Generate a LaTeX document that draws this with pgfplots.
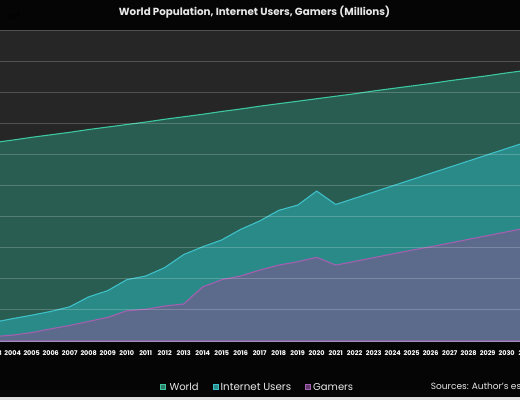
\documentclass[border=0pt]{standalone}
\usepackage{pgfplots}
\usepackage{pgfplotstable}
\pgfplotsset{compat=1.18}
\usepackage{fontspec}
\setmainfont{Poppins}
\definecolor{pagebg}{HTML}{050505}
\definecolor{plotbg}{HTML}{262626}
\definecolor{worldfill}{HTML}{2A5D51}
\definecolor{worldline}{HTML}{3CC7A0}
\definecolor{netfill}{HTML}{2A8A88}
\definecolor{netline}{HTML}{3EC0C8}
\definecolor{gamefill}{HTML}{5C6B8C}
\definecolor{gameline}{HTML}{A35FB0}
\definecolor{txt}{HTML}{E8E8E8}
\pgfplotstableread{
year world internet gamers
2003 6380 600 140
2004 6460 720 190
2005 6550 830 270
2006 6630 950 390
2007 6710 1100 500
2008 6800 1420 630
2009 6880 1620 760
2010 6960 1970 970
2011 7040 2090 1020
2012 7130 2360 1125
2013 7210 2780 1190
2014 7290 3030 1740
2015 7380 3250 1970
2016 7460 3590 2090
2017 7550 3860 2280
2018 7630 4200 2440
2019 7710 4370 2550
2020 7790 4820 2690
2021 7870 4390 2440
2022 7950 4590 2560
2023 8040 4790 2680
2024 8120 4990 2800
2025 8200 5190 2920
2026 8280 5390 3030
2027 8370 5590 3150
2028 8450 5790 3270
2029 8530 5990 3390
2030 8620 6190 3510
2031 8700 6390 3630
}\datatable
\tikzset{ticklab/.style={font=\fontsize{6.5}{7}\selectfont\bfseries, text=white}}
\begin{document}
\begin{tikzpicture}
\useasboundingbox (0pt,0pt) rectangle (520pt,400pt);
\clip (0pt,0pt) rectangle (520pt,400pt);
\fill[pagebg] (0pt,0pt) rectangle (520pt,400pt);
\fill[black!12] (0pt,0pt) rectangle (520pt,2.7pt);
\begin{axis}[
  at={(0pt,59pt)}, anchor=south west,
  scale only axis, width=520pt, height=311pt,
  xmin=2003.33, xmax=2030.70, ymin=0, ymax=10000,
  axis background/.style={fill=plotbg},
  xtick={2004,...,2030},
  /pgf/number format/assume math mode=true,
  xticklabel style={ticklab, /pgf/number format/1000 sep=, anchor=center, yshift=-11.7pt},
  ytick={0,1000,...,10000}, yticklabels={},
  ymajorgrids, grid style={white, opacity=0.2, line width=0.9pt},
  axis on top, axis line style={draw=none}, major tick length=0pt,
]
\addplot[fill=worldfill, draw=worldline, line width=1.1pt] table[x=year,y=world]{\datatable} \closedcycle;
\addplot[fill=netfill, draw=netline, line width=1.1pt] table[x=year,y=internet]{\datatable} \closedcycle;
\addplot[fill=gamefill, draw=gameline, line width=1.1pt] table[x=year,y=gamers]{\datatable} \closedcycle;
\coordinate (a2003) at (axis cs:2003,0);
\coordinate (a2031) at (axis cs:2031,0);
\end{axis}
\node[ticklab, anchor=center, yshift=-11.7pt] at (a2003) {2003};
\node[ticklab, anchor=center, yshift=-11.7pt] at (a2031) {2031};
\node[font=\fontsize{10.3}{11}\selectfont\bfseries, text=txt] at (254.5pt,387.5pt) {World Population, Internet Users, Gamers (Millions)};
\draw[worldline, fill=worldfill!70!worldline, line width=0.8pt] (160.2pt,10.5pt) rectangle (165.8pt,16.1pt);
\node[font=\fontsize{10}{11}\selectfont, text=txt, anchor=west, inner sep=0pt] at (169.3pt,13.3pt) {World};
\draw[netline, fill=netfill, line width=0.8pt] (212.9pt,10.5pt) rectangle (218.5pt,16.1pt);
\node[font=\fontsize{10.3}{11}\selectfont, text=txt, anchor=west, inner sep=0pt] at (220.5pt,13.3pt) {Internet Users};
\draw[gameline, fill=gameline!60!black, line width=0.8pt] (305pt,10.5pt) rectangle (310.6pt,16.1pt);
\node[font=\fontsize{10}{11}\selectfont, text=txt, anchor=west, inner sep=0pt] at (313pt,13.3pt) {Gamers};
\node[font=\fontsize{9}{10}\selectfont, text=txt, anchor=west, inner sep=0pt] at (430.7pt,14.3pt) {Sources: Author's estimates};
\end{tikzpicture}
\end{document}
